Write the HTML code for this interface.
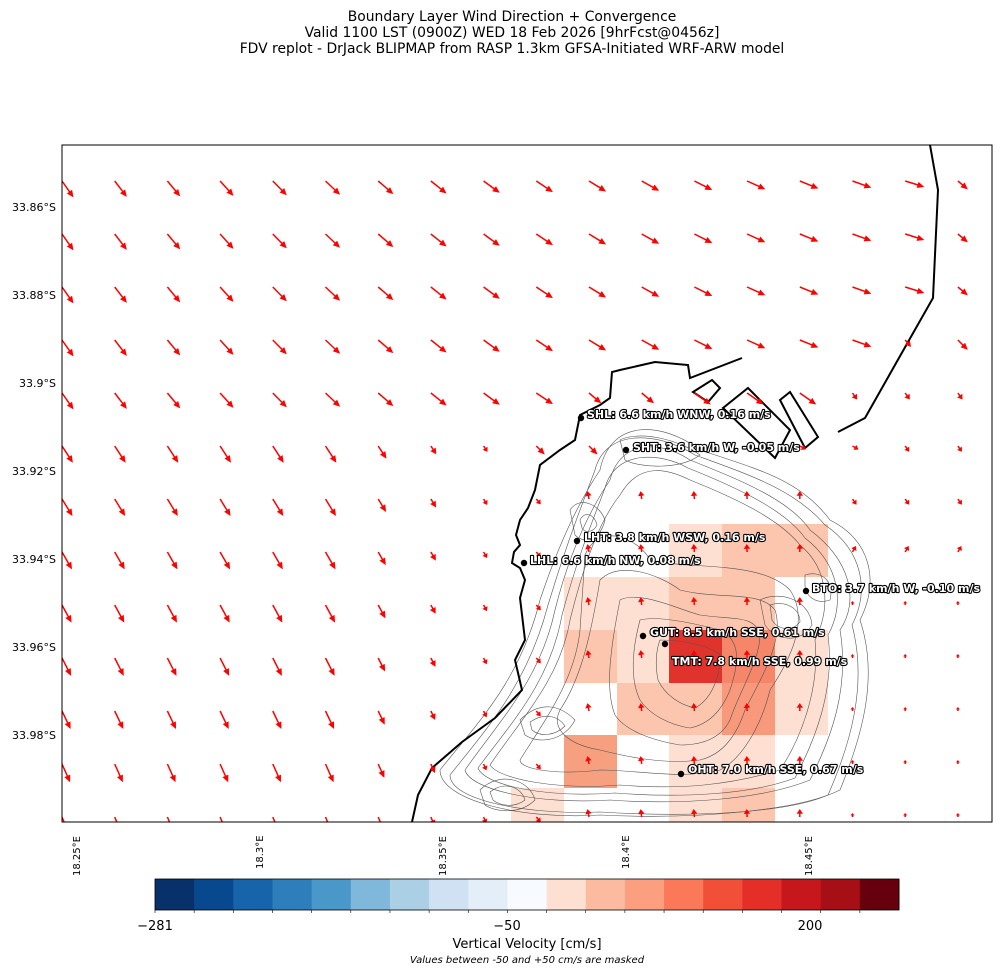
<!DOCTYPE html>
<html><head><meta charset="utf-8"><style>
body{margin:0;background:#fff;font-family:"Liberation Sans","DejaVu Sans",sans-serif}
</style></head><body>
<svg width="1001" height="974" xmlns="http://www.w3.org/2000/svg" font-family="DejaVu Sans, Liberation Sans, sans-serif">
<rect width="1001" height="974" fill="#fff"/>
<g text-anchor="middle" font-size="13.9" fill="#000">
<text x="512" y="21">Boundary Layer Wind Direction + Convergence</text>
<text x="512" y="37">Valid 1100 LST (0900Z) WED 18 Feb 2026 [9hrFcst@0456z]</text>
<text x="512" y="53">FDV replot - DrJack BLIPMAP from RASP 1.3km GFSA-Initiated WRF-ARW model</text>
</g>
<defs><clipPath id="c"><rect x="62" y="145" width="930" height="677"/></clipPath></defs>
<g clip-path="url(#c)">
<g id="cells">
<rect x="669" y="524" width="53" height="53" fill="#fee0d2"/>
<rect x="722" y="524" width="106" height="53" fill="#fcc5ae"/>
<rect x="564" y="577" width="105" height="53" fill="#fee0d2"/>
<rect x="669" y="577" width="106" height="53" fill="#fcc5ae"/>
<rect x="564" y="630" width="53" height="53" fill="#fcc5ae"/>
<rect x="617" y="630" width="52" height="53" fill="#fee0d2"/>
<rect x="669" y="630" width="53" height="53" fill="#e0332b"/>
<rect x="722" y="630" width="53" height="53" fill="#f6866a"/>
<rect x="775" y="630" width="53" height="105" fill="#fee0d2"/>
<rect x="617" y="683" width="105" height="52" fill="#fcc5ae"/>
<rect x="722" y="683" width="53" height="52" fill="#f9997c"/>
<rect x="564" y="735" width="53" height="53" fill="#f6a080"/>
<rect x="669" y="735" width="106" height="53" fill="#fee0d2"/>
<rect x="511" y="788" width="53" height="34" fill="#fee0d2"/>
<rect x="669" y="788" width="53" height="34" fill="#fee0d2"/>
<rect x="722" y="788" width="53" height="34" fill="#fcc5ae"/>
</g>
<g fill="none" stroke="#555" stroke-width="0.6">
<path d="M600,470 C610,420 660,420 700,450 C760,470 800,480 830,520 C870,540 880,580 860,620 C880,680 860,740 840,790 C800,810 700,820 600,815 C520,820 440,800 440,770 C480,720 520,680 540,600 C560,540 580,500 600,470Z"/>
<path d="M610,480 C620,440 660,440 690,460 C740,480 790,500 810,530 C850,560 860,600 840,630 C850,690 830,740 810,780 C760,800 680,805 610,800 C540,805 470,790 465,770 C500,720 540,680 555,610 C570,550 590,510 610,480Z"/>
<path d="M620,495 C640,460 670,470 690,480 C740,500 780,520 800,545 C830,570 830,610 815,640 C820,690 800,740 780,770 C730,785 680,790 620,785 C560,790 500,780 490,765 C520,720 560,680 570,620 C585,560 600,520 620,495Z"/>
<path d="M585,555 C600,520 640,540 650,560 C690,570 760,560 790,590 C810,620 790,660 770,690 C760,730 740,760 720,770 C680,780 640,770 600,770 C560,775 520,770 520,760 C545,720 575,680 580,630Z"/>
<path d="M600,580 C620,560 660,575 680,590 C720,600 760,590 775,610 C785,640 760,680 745,710 C735,740 720,755 700,760 C660,765 620,755 600,750 C570,745 550,730 560,710 C580,680 590,640 600,580Z"/>
<path d="M620,600 C640,590 680,610 700,615 C735,620 755,615 760,635 C760,660 740,690 730,720 C720,740 700,745 680,745 C650,740 625,730 615,715 C605,690 610,650 620,600Z"/>
<path d="M640,620 C660,615 700,625 720,630 C740,640 740,660 730,690 C720,715 705,725 690,728 C670,725 650,715 640,700 C630,680 632,650 640,620Z"/>
<path d="M660,640 C680,640 710,645 720,655 C720,680 710,700 695,708 C680,705 665,695 658,680 C655,665 656,650 660,640Z"/>
<path d="M595,470 C605,430 655,430 695,455 C750,475 795,490 825,525 C862,550 870,590 852,625 C868,685 850,745 828,795 C790,812 700,818 600,812 C525,815 450,800 450,775 C490,725 528,682 548,605 C566,545 582,505 595,470Z"/>
<path d="M605,488 C615,450 660,452 688,468 C738,488 785,510 805,538 C840,565 845,605 828,635 C835,690 815,740 795,778 C750,795 680,798 615,793 C548,798 485,786 478,768 C512,722 550,682 562,615 C578,555 595,515 605,488Z"/>
<path d="M570,510 C580,495 600,505 605,520 C600,540 585,545 575,535Z"/>
<path d="M580,520 C585,510 595,515 597,525 C593,533 585,533 582,528Z"/>
<path d="M760,600 C780,590 810,600 812,625 C800,645 775,640 765,625Z"/>
<path d="M770,605 C785,600 800,608 800,622 C792,632 778,630 772,620Z"/>
<path d="M480,790 C500,770 530,780 535,800 C520,815 495,812 485,805Z"/>
<path d="M490,792 C505,780 522,788 525,800 C515,808 500,806 493,800Z"/>
<path d="M620,440 C640,430 680,440 700,455 C680,470 640,468 625,460Z"/>
<path d="M805,575 C820,570 835,580 830,600 C815,605 805,595 805,585Z"/>
<path d="M520,720 C540,700 560,705 575,720 C565,740 540,745 525,735Z"/>
<path d="M530,722 C545,712 558,716 565,726 C555,736 540,737 532,730Z"/>
</g>
<g fill="none" stroke="#000" stroke-width="2">
<path d="M930,145 L938,190 L933,298 L908,342 L865,418 L838,432"/>
<path d="M742,358 L690,378 L688,365 L655,362 L620,370 L612,372 L610,398 L600,405 L580,415 L575,440 L560,450 L540,465 L535,490 L528,508 L520,520 L516,535 L520,545 L514,552 L512,563 L520,568 L525,580 L520,598 L525,640 L515,660 L522,690 L495,718 L462,742 L432,768 L418,795 L412,822"/>
<path d="M693,392 L712,380 L720,388 L708,402 Z"/>
<path d="M723,408 L748,388 L790,430 L775,458 Z" />
<path d="M780,400 L790,392 L818,437 L805,448 Z"/>
</g>
<g id="arrows" fill="red" stroke="red"></g>
</g>
<rect x="62" y="145" width="930" height="677" fill="none" stroke="#000" stroke-width="1"/>
<g font-size="11" text-anchor="end" fill="#000">
<text x="56" y="211">33.86°S</text><text x="56" y="299">33.88°S</text><text x="56" y="387">33.9°S</text>
<text x="56" y="475">33.92°S</text><text x="56" y="563">33.94°S</text><text x="56" y="651">33.96°S</text><text x="56" y="739">33.98°S</text>
</g>
<g font-size="10" fill="#000">
<text transform="translate(80,876) rotate(-90)">18.25°E</text>
<text transform="translate(263,869) rotate(-90)">18.3°E</text>
<text transform="translate(446,876) rotate(-90)">18.35°E</text>
<text transform="translate(629,869) rotate(-90)">18.4°E</text>
<text transform="translate(812,876) rotate(-90)">18.45°E</text>
</g>
<g font-size="11" font-weight="bold" fill="#fff" stroke="#000" stroke-width="2.2" paint-order="stroke" stroke-linejoin="round">
<text x="587" y="418">SHL: 6.6 km/h WNW, 0.16 m/s</text>
<text x="633" y="451">SHT: 3.6 km/h W, -0.05 m/s</text>
<text x="584" y="541">LHT: 3.8 km/h WSW, 0.16 m/s</text>
<text x="530" y="564">LHL: 6.6 km/h NW, 0.08 m/s</text>
<text x="812" y="592">BTO: 3.7 km/h W, -0.10 m/s</text>
<text x="650" y="636">GUT: 8.5 km/h SSE, 0.61 m/s</text>
<text x="672" y="665">TMT: 7.8 km/h SSE, 0.99 m/s</text>
<text x="688" y="773">OHT: 7.0 km/h SSE, 0.67 m/s</text>
</g>
<g fill="#000">
<circle cx="581" cy="418" r="3.2"/><circle cx="626" cy="450" r="3.2"/><circle cx="577" cy="541" r="3.2"/>
<circle cx="524" cy="563" r="3.2"/><circle cx="806" cy="591" r="3.2"/><circle cx="643" cy="636" r="3.2"/>
<circle cx="665" cy="644" r="3.2"/><circle cx="681" cy="774" r="3.2"/>
</g>
<g id="cb"></g>
<rect x="155" y="879" width="744" height="31" fill="none" stroke="#000" stroke-width="0.8"/>
<g font-size="13" text-anchor="middle" fill="#000">
<text x="155" y="930">−281</text><text x="507" y="930">−50</text><text x="810" y="930">200</text>
<text x="527" y="948">Vertical Velocity [cm/s]</text>
</g>
<text x="527" y="963" font-size="10" font-style="italic" text-anchor="middle">Values between -50 and +50 cm/s are masked</text>
</svg>
<script>
var NS="http://www.w3.org/2000/svg";
var cols=["#08306b","#08488e","#1764ab","#2f7ebc","#4a98c9","#7fb8da","#abcfe5","#cfe1f2","#e3eef9","#f7fbff","#fee0d2","#fcbba1","#fc9e80","#fb7858","#f24f39","#e32f27","#c5171c","#a50f15","#67000d"];
var cb=document.getElementById("cb"),w=744/19;
for(var i=0;i<19;i++){var r=document.createElementNS(NS,"rect");r.setAttribute("x",155+i*w);r.setAttribute("y",879);r.setAttribute("width",w+0.5);r.setAttribute("height",31);r.setAttribute("fill",cols[i]);cb.appendChild(r);
var t=document.createElementNS(NS,"line");t.setAttribute("x1",155+i*w);t.setAttribute("x2",155+i*w);t.setAttribute("y1",910);t.setAttribute("y2",913);t.setAttribute("stroke","#000");t.setAttribute("stroke-width","0.6");cb.appendChild(t);}
var g=document.getElementById("arrows");
function arrow(x,y,L,a){
 var rad=a*Math.PI/180,ux=Math.cos(rad),uy=Math.sin(rad);
 var hl=Math.min(7,L*0.6),hw=Math.min(3.2,L*0.3+0.8);
 var hx=x+ux*L,hy=y+uy*L,bx=hx-ux*hl,by=hy-uy*hl;
 var ln=document.createElementNS(NS,"line");ln.setAttribute("x1",x);ln.setAttribute("y1",y);ln.setAttribute("x2",bx+ux*0.5);ln.setAttribute("y2",by+uy*0.5);ln.setAttribute("stroke-width","1.5");g.appendChild(ln);
 var p=document.createElementNS(NS,"polygon");p.setAttribute("points",hx.toFixed(2)+","+hy.toFixed(2)+" "+(bx-uy*hw).toFixed(2)+","+(by+ux*hw).toFixed(2)+" "+(bx+uy*hw).toFixed(2)+","+(by-ux*hw).toFixed(2));p.setAttribute("stroke","none");g.appendChild(p);
}
for(var r=0;r<13;r++){for(var c=0;c<18;c++){
 var x=62+c*52.7,y=181+r*53,L,a,fx=c/17;
 if(r<=4){
  L=20; a=55-40*fx;
  if(c==17){L=r<3?13:14;a=r<3?40:45;}
  if(r==3&&c==16){L=9;a=50;}
  if(r==4){ if(c>=15){L=8;a=55;} if(c>=11&&c<=14){L=20;a=35;} if(c==10||c==11){L=16;a=40;} }
 } else {
  L=Math.max(7,20-Math.max(0,x-330)*0.1); a=57+(r-5)*1.5;
  if(x>530){
   if(x>=840 && y<600){L=7;a=r<=6?55:-60;}
   else if(x>=840){L=4;a=-90;}
   else if(x>=540 && (y>470||x>600)){L=8;a=-95+(x-700)*0.05;}
   else {L=7;a=50;}
  }
  if(r==5&&c>=9&&c<=13&&x<600){L=12;a=45;}
  if(r==5&&c>=10&&c<=15&&x>=600){L=7;a=30;}
 }
 arrow(x,y,L,a);
}}
</script>
</body></html>
